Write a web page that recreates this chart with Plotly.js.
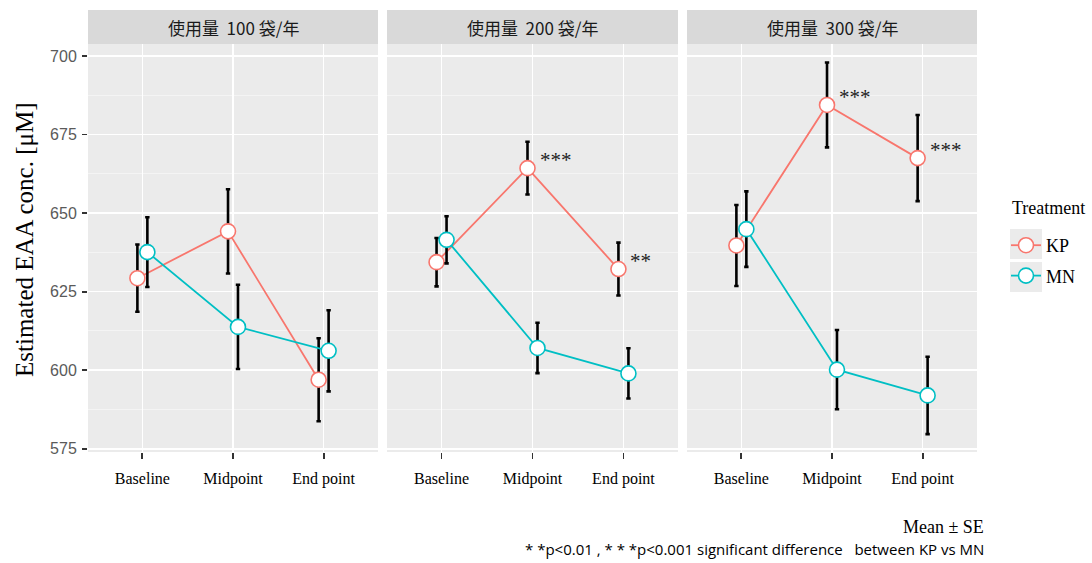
<!DOCTYPE html>
<html>
<head>
<meta charset="utf-8">
<script src="https://cdn.plot.ly/plotly-3.0.1.min.js"></script>
<style>html,body{margin:0;padding:0;background:#fff;}#chart{width:1092px;height:563px;}</style>
</head>
<body>
<div id="chart"></div>
<script>
// ---- data ----
const timepoints = ['Baseline', 'Midpoint', 'End point'];
const panelLabels = ['使用量  100 袋/年', '使用量  200 袋/年', '使用量  300 袋/年'];
const groups = ['KP', 'MN'];

const kpMean100 = [629.3, 644.2, 597.0];
const kpSE100   = [10.7, 13.4, 13.2];
const mnMean100 = [637.6, 613.8, 606.2];
const mnSE100   = [11.1, 13.4, 12.9];

const kpMean200 = [634.4, 664.3, 632.2];
const kpSE200   = [7.7, 8.4, 8.4];
const mnMean200 = [641.5, 607.1, 599.0];
const mnSE200   = [7.5, 8.0, 8.0];

const kpMean300 = [639.7, 684.4, 667.5];
const kpSE300   = [12.9, 13.5, 13.7];
const mnMean300 = [644.9, 600.2, 592.0];
const mnSE300   = [12.0, 12.6, 12.3];

const sig100 = ['', '', ''];
const sig200 = ['', '***', '**'];
const sig300 = ['', '***', '***'];

const yTicks = [575, 600, 625, 650, 675, 700];

// ---- style ----
const colors = {KP: '#F8766D', MN: '#00BFC4'};
const dodge = {KP: -0.055, MN: 0.055};
const serif = 'Liberation Serif, Times New Roman, serif';
const sans = 'Liberation Sans, Arial, sans-serif';
const W = 1092, H = 563;
const xDomains = [[88 / W, 378 / W], [387 / W, 678 / W], [687 / W, 977 / W]];
const yDomain = [1 - 452 / H, 1 - 44 / H];

const panels = [
  {KP: [kpMean100, kpSE100], MN: [mnMean100, mnSE100], sig: sig100},
  {KP: [kpMean200, kpSE200], MN: [mnMean200, mnSE200], sig: sig200},
  {KP: [kpMean300, kpSE300], MN: [mnMean300, mnSE300], sig: sig300}
];

const traces = [];
const annotations = [];
const shapes = [];
const layout = {
  width: W, height: H,
  margin: {l: 0, r: 0, t: 0, b: 0},
  paper_bgcolor: '#ffffff',
  plot_bgcolor: '#EBEBEB',
  showlegend: true,
  legend: {
    font: {family: serif, size: 18, color: '#000'},
    x: 1006 / W, xanchor: 'left', y: 1 - 227 / H, yanchor: 'top',
    bgcolor: 'rgba(0,0,0,0)', traceorder: 'grouped', tracegroupgap: 4,
    itemclick: false
  }
};

panels.forEach((p, i) => {
  const ax = i === 0 ? '' : String(i + 1);
  const xa = 'x' + ax, ya = 'y' + ax;
  groups.forEach(g => {
    const [mean, se] = p[g];
    traces.push({
      type: 'scatter', mode: 'lines+markers',
      name: g, legendgroup: g, showlegend: i === 0,
      x: timepoints.map((t, k) => k + 1 + dodge[g]),
      y: mean,
      error_y: {type: 'data', array: se, visible: true, color: '#000', thickness: 2.6, width: 2.2},
      line: {color: colors[g], width: 1.8},
      marker: {symbol: 'circle', size: 15, color: '#ffffff', line: {color: colors[g], width: 1.6}},
      xaxis: xa, yaxis: ya,
      hoverinfo: 'skip'
    });
  });
  // significance marks
  p.sig.forEach((s, k) => {
    if (!s) return;
    annotations.push({
      xref: xa, yref: ya, x: k + 1 + dodge.KP, y: p.KP[0][k],
      text: s, showarrow: false, xanchor: 'left', yanchor: 'middle',
      xshift: 10, yshift: 8,
      font: {family: serif, size: 21, color: '#222'}
    });
  });
  const axKey = 'xaxis' + ax, ayKey = 'yaxis' + ax;
  layout[axKey] = {
    domain: xDomains[i], range: [0.4, 3.6], anchor: ya,
    tickmode: 'array', tickvals: timepoints.map((t, k) => k + 1), ticktext: timepoints,
    ticks: 'outside', ticklen: 6, tickwidth: 1.8, tickcolor: '#333',
    ticklabelstandoff: 6,
    tickfont: {family: serif, size: 16, color: '#000'},
    showgrid: true, gridcolor: '#ffffff', gridwidth: 1.6,
    zeroline: false, showline: false, fixedrange: true
  };
  layout[ayKey] = {
    domain: yDomain, range: [574.0, 703.8], anchor: xa,
    tickmode: 'array', tickvals: yTicks,
    ticks: i === 0 ? 'outside' : '', ticklen: 5, tickwidth: 1.8, tickcolor: '#333',
    showticklabels: i === 0,
    ticklabelstandoff: 2,
    tickfont: {family: sans, size: 16, color: '#5a5a5a'},
    showgrid: true, gridcolor: '#ffffff', gridwidth: 1.6,
    minor: {tickmode: 'array', tickvals: yTicks.slice(0, -1).map(v => v + 12.5), showgrid: true, gridcolor: '#F6F6F6', gridwidth: 0.8, ticks: ''},
    zeroline: false, showline: false, fixedrange: true
  };
  // strip
  shapes.push({
    type: 'rect', xref: 'paper', yref: 'paper',
    x0: xDomains[i][0], x1: xDomains[i][1], y0: yDomain[1], y1: 1 - 10 / H,
    fillcolor: '#D9D9D9', line: {width: 0}, layer: 'below'
  });
  annotations.push({
    xref: 'paper', yref: 'paper', x: (xDomains[i][0] + xDomains[i][1]) / 2, y: 1 - 27 / H,
    text: panelLabels[i], showarrow: false, xanchor: 'center', yanchor: 'middle',
    font: {family: 'Noto Sans CJK JP, Noto Sans, sans-serif', size: 17, color: '#1A1A1A'}
  });
});

// legend title
annotations.push({
  xref: 'paper', yref: 'paper', x: 1010 / W, y: 1 - 208 / H,
  text: 'Treatment', showarrow: false, xanchor: 'left', yanchor: 'middle',
  font: {family: serif, size: 18, color: '#000'}
});
// legend key backgrounds
[[229, 259], [262, 292]].forEach(([t, b]) => {
  shapes.push({
    type: 'rect', xref: 'paper', yref: 'paper',
    x0: 1010 / W, x1: 1042 / W, y0: 1 - b / H, y1: 1 - t / H,
    fillcolor: '#EBEBEB', line: {width: 0}, layer: 'below'
  });
});

// y axis title
annotations.push({
  xref: 'paper', yref: 'paper', x: 25 / W, y: 1 - 240 / H,
  text: 'Estimated EAA conc. [μM]', textangle: -90, showarrow: false,
  xanchor: 'center', yanchor: 'middle',
  font: {family: serif, size: 25, color: '#000'}
});

// footnotes
annotations.push({
  xref: 'paper', yref: 'paper', x: 986 / W, y: 1 - 527 / H,
  text: 'Mean ± SE', showarrow: false, xanchor: 'right', yanchor: 'middle',
  font: {family: serif, size: 18, color: '#000'}
});
annotations.push({
  xref: 'paper', yref: 'paper', x: 986 / W, y: 1 - 549 / H,
  text: '* *p<0.01 , * * *p<0.001 significant difference   between KP vs MN', showarrow: false,
  xanchor: 'right', yanchor: 'middle',
  font: {family: 'Open Sans, sans-serif', size: 15, color: '#000'}
});

layout.annotations = annotations;
layout.shapes = shapes;

Plotly.newPlot('chart', traces, layout, {displayModeBar: false, staticPlot: true});
</script>
</body>
</html>
